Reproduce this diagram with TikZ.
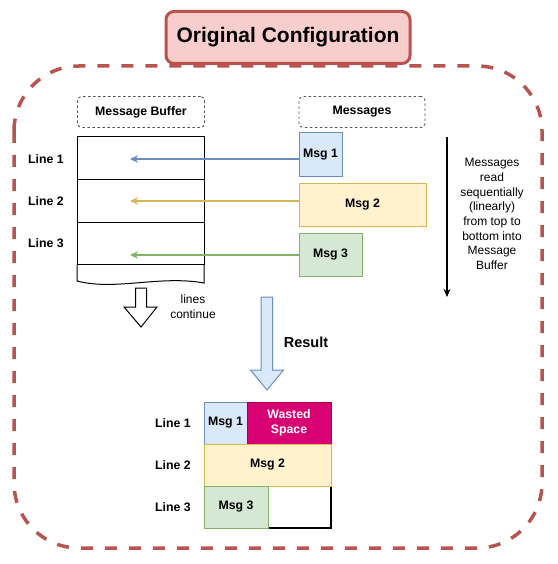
\documentclass[tikz,border=0pt]{standalone}
\usepackage{fontspec}
\setmainfont{Liberation Sans}
\usetikzlibrary{arrows.meta}
\definecolor{redB}{HTML}{B85450}
\definecolor{redF}{HTML}{F8CECC}
\definecolor{blueB}{HTML}{6C8EBF}
\definecolor{blueF}{HTML}{DAE8FC}
\definecolor{yelB}{HTML}{D6B656}
\definecolor{yelF}{HTML}{FFF2CC}
\definecolor{grnB}{HTML}{82B366}
\definecolor{grnF}{HTML}{D5E8D4}
\definecolor{wasteF}{HTML}{D80073}
\definecolor{wasteB}{HTML}{A50040}
\definecolor{dashG}{HTML}{555555}
\begin{document}
\begin{tikzpicture}[x=1pt,y=-1pt,
  every node/.style={inner sep=0pt, outer sep=0pt},
  bfont/.style={font=\fontsize{12.3}{14}\selectfont\bfseries},
  rfont/.style={font=\fontsize{12}{14.7}\selectfont},
  cellbox/.style={draw, line width=1pt, bfont, align=center},
  hdrbox/.style={draw=dashG, line width=0.9pt, dash pattern=on 2.5pt off 2.5pt, rounded corners=4pt, bfont, minimum height=31pt},
  msgarrow/.style={line width=1.2pt, -{Stealth[length=8pt,width=7.5pt,inset=2.5pt]}},
  linelabel/.style={bfont}
]
\useasboundingbox (0,0) rectangle (557,564);

% outer dashed frame
\draw[redB, line width=3.5pt, dash pattern=on 12pt off 12pt, rounded corners=65pt]
  (14,66) rectangle (542,548);

% title
\node[draw=redB, fill=redF, line width=3pt, rounded corners=8pt,
      minimum width=244pt, minimum height=52pt,
      font=\fontsize{21}{24}\selectfont\bfseries] (title) at (288,37.5) {Original Configuration};

% header boxes
\node[hdrbox, minimum width=127pt] (hbuf) at (141,112) {Message Buffer};
\node[hdrbox, minimum width=126pt] (hmsg) at (362,112) {Messages};

% buffer rows
\node[cellbox, minimum width=127pt, minimum height=42.5pt] (r1) at (140.5,158.25) {};
\node[cellbox, minimum width=127pt, minimum height=42.5pt] (r2) at (140.5,200.75) {};
\node[cellbox, minimum width=127pt, minimum height=42.5pt] (r3) at (140.5,243.25) {};
\draw[line width=1pt] (r3.south west) -- (77,281)
  .. controls (115,291) and (160,275) .. (204,283) -- (r3.south east);

\node[linelabel] (l1) at (46,159) {Line 1};
\node[linelabel] (l2) at (46,201) {Line 2};
\node[linelabel] (l3) at (46,243) {Line 3};

% messages
\node[cellbox, draw=blueB, fill=blueF, minimum width=43pt, minimum height=43pt] (m1) at (320.5,154.5) {Msg 1};
\node[cellbox, draw=yelB, fill=yelF, minimum width=127pt, minimum height=43pt] (m2) at (362.5,204.5) {Msg 2};
\node[cellbox, draw=grnB, fill=grnF, minimum width=63pt, minimum height=43pt] (m3) at (330.5,254.5) {Msg 3};

\coordinate (t1) at (130,159);
\coordinate (t2) at (130,201);
\coordinate (t3) at (130,255);
\draw[msgarrow, blueB] (t1 -| m1.west) -- (t1);
\draw[msgarrow, yelB] (t2 -| m2.west) -- (t2);
\draw[msgarrow, grnB] (t3 -| m3.west) -- (t3);

% lines continue arrow
\draw[line width=1pt, fill=white] (135.5,288) -- (146.5,288) -- (146.5,307) -- (157,307)
  -- (141,327) -- (124,307) -- (135.5,307) -- cycle;
\node[rfont, align=center] (cont) at (193,307) {lines\\continue};

% result arrow
\draw[line width=1pt, draw=blueB, fill=blueF] (261,297) -- (272.5,297) -- (272.5,370) -- (283.5,370)
  -- (267,390) -- (250.5,370) -- (261,370) -- cycle;
\node[font=\fontsize{14.5}{16}\selectfont\bfseries] (res) at (306,342) {Result};

% right explanation arrow
\coordinate (ra) at (447,137);
\coordinate (rb) at (447,297);
\draw[line width=1.2pt, -{Stealth[length=8pt,width=7pt,inset=2.5pt]}] (ra) -- (rb);
\node[rfont, align=center] (expl) at (492,214) {Messages\\read\\sequentially\\(linearly)\\from top to\\bottom into\\Message\\Buffer};

% result table
\node[cellbox, draw=black, fill=white, line width=1.4pt, minimum width=63pt, minimum height=42pt] (e3) at (299.5,507) {};
\node[cellbox, draw=blueB, fill=blueF, minimum width=43pt, minimum height=42pt] (b1) at (225.5,423) {Msg 1};
\node[cellbox, draw=wasteB, fill=wasteF, text=white, minimum width=84pt, minimum height=42pt,
      font=\fontsize{12.3}{15}\selectfont\bfseries] (w) at (289,423) {Wasted\\Space};
\node[cellbox, draw=yelB, fill=yelF, minimum width=127pt, minimum height=42pt] (b2) at (267.5,465) {Msg 2};
\node[cellbox, draw=grnB, fill=grnF, minimum width=64pt, minimum height=42pt] (b3) at (236,507) {Msg 3};

\node[linelabel] (bl1) at (173,423) {Line 1};
\node[linelabel] (bl2) at (173,465) {Line 2};
\node[linelabel] (bl3) at (173,507) {Line 3};
\end{tikzpicture}
\end{document}
